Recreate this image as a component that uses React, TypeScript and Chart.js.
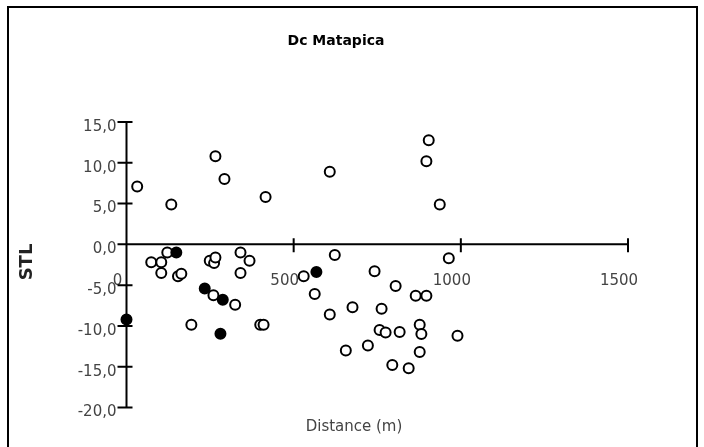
import { useEffect, useRef } from "react";
import { Chart, registerables } from "chart.js";

Chart.register(...registerables);

// Labels
const chartTitle = "Dc Matapica";
const xAxisTitle = "Distance (m)";
const yAxisTitle = "STL";

// Axis extents and tick spacing
const xMin = 0;
const xMax = 1500;
const xStep = 500;
const yMin = -20;
const yMax = 15;
const yStep = 5;

// Open-circle samples: distance (m) and STL
const openDistance = [
  32, 134, 266, 293, 416, 608, 904, 897, 937,
  74, 104, 122, 104, 154, 164, 249, 262, 266, 341, 341, 368,
  260, 325, 194, 400, 410, 530, 563, 608, 623, 676, 742, 805, 865, 897,
  763, 757, 775, 817, 877, 882, 990, 964, 656, 722, 877, 795, 844,
];
const openStl = [
  7.1, 4.9, 10.8, 8.0, 5.8, 8.9, 12.75, 10.2, 4.9,
  -2.2, -2.2, -1.0, -3.5, -3.9, -3.6, -2.0, -2.3, -1.6, -1.0, -3.5, -2.0,
  -6.25, -7.4, -9.85, -9.85, -9.85, -3.9, -6.1, -8.6, -1.3, -7.7, -3.3, -5.1, -6.3, -6.3,
  -7.9, -10.5, -10.8, -10.75, -9.85, -11.0, -11.2, -1.7, -13.0, -12.4, -13.2, -14.8, -15.2,
];

// Filled-circle samples
const filledDistance = [0, 149, 234, 288, 281, 568];
const filledStl = [-9.2, -1.0, -5.4, -6.8, -10.95, -3.4];

const FONT = "'DejaVu Sans', Verdana, sans-serif";
const TEXT_GREY = "#444";

// Axis lines crossing at the origin, with ticks that straddle each axis.
const crossAxesPlugin = {
  id: "crossAxes",
  beforeDatasetsDraw(chart: any) {
    const { ctx, scales } = chart;
    const xs = scales.x;
    const ys = scales.y;
    const x0 = xs.getPixelForValue(0);
    const y0 = ys.getPixelForValue(0);
    ctx.save();
    ctx.strokeStyle = "#000";
    ctx.lineWidth = 2;
    ctx.lineCap = "butt";
    ctx.beginPath();
    ctx.moveTo(x0, ys.getPixelForValue(yMax));
    ctx.lineTo(x0, ys.getPixelForValue(yMin));
    ctx.moveTo(xs.getPixelForValue(xMin), y0);
    ctx.lineTo(xs.getPixelForValue(xMax), y0);
    for (const t of ys.ticks) {
      const py = ys.getPixelForValue(t.value);
      ctx.moveTo(x0 - 9, py);
      ctx.lineTo(x0 + 6, py);
    }
    for (const t of xs.ticks) {
      if (t.value === 0) continue;
      const px = xs.getPixelForValue(t.value);
      ctx.moveTo(px, y0 - 6);
      ctx.lineTo(px, y0 + 8);
    }
    ctx.stroke();
    ctx.restore();
  },
  afterDraw(chart: any) {
    const { ctx } = chart;
    ctx.save();
    // outer frame
    ctx.strokeStyle = "#000";
    ctx.lineWidth = 2;
    ctx.beginPath();
    ctx.moveTo(8, 447);
    ctx.lineTo(8, 7);
    ctx.lineTo(697, 7);
    ctx.lineTo(697, 447);
    ctx.stroke();

    ctx.textAlign = "center";
    ctx.textBaseline = "middle";
    ctx.fillStyle = "#000";
    ctx.font = `bold 14px ${FONT}`;
    ctx.fillText(chartTitle, 336, 41);

    ctx.fillStyle = TEXT_GREY;
    ctx.font = `15px ${FONT}`;
    ctx.fillText(xAxisTitle, 354, 427);

    ctx.translate(27, 262);
    ctx.rotate(-Math.PI / 2);
    ctx.fillStyle = "#222";
    ctx.font = `bold 18px ${FONT}`;
    ctx.fillText(yAxisTitle, 0, 0);
    ctx.restore();
  },
};

export default function App() {
  const canvasRef = useRef<HTMLCanvasElement>(null);

  useEffect(() => {
    if (!canvasRef.current) return;
    const pointStyle = {
      pointRadius: 5,
      pointHoverRadius: 5,
      pointBorderWidth: 2,
      pointBorderColor: "#000",
      clip: false as const,
      showLine: false,
    };
    const chart = new Chart(canvasRef.current, {
      type: "scatter",
      data: {
        datasets: [
          {
            label: "filled",
            data: filledDistance.map((x, i) => ({ x, y: filledStl[i] })),
            ...pointStyle,
            pointBackgroundColor: "#000",
          },
          {
            label: "open",
            data: openDistance.map((x, i) => ({ x, y: openStl[i] })),
            ...pointStyle,
            pointBackgroundColor: "#fff",
          },
        ],
      },
      options: {
        responsive: false,
        animation: false,
        events: [],
        layout: { padding: { left: 66.5, right: 76, top: 122, bottom: 39.5 } },
        plugins: {
          legend: { display: false },
          tooltip: { enabled: false },
          title: { display: false },
        },
        scales: {
          x: {
            type: "linear",
            position: { y: 0 },
            min: xMin,
            max: xMax,
            grid: { display: false, drawTicks: false },
            border: { display: false },
            ticks: {
              stepSize: xStep,
              padding: 28,
              labelOffset: -9,
              maxRotation: 0,
              autoSkip: false,
              color: TEXT_GREY,
              font: { family: FONT, size: 15 },
              callback: (v: any) => String(v),
            },
          },
          y: {
            type: "linear",
            position: "left",
            min: yMin,
            max: yMax,
            afterFit: (s: any) => {
              s.width = 60;
            },
            grid: { display: false, drawTicks: false },
            border: { display: false },
            ticks: {
              stepSize: yStep,
              padding: 10,
              labelOffset: 5,
              color: TEXT_GREY,
              font: { family: FONT, size: 15 },
              callback: (v: any) => Number(v).toFixed(1).replace(".", ","),
            },
          },
        },
      },
      plugins: [crossAxesPlugin],
    });
    return () => chart.destroy();
  }, []);

  return (
    <div style={{ position: "absolute", left: 0, top: 0, width: 704, height: 447, background: "#fff" }}>
      <canvas ref={canvasRef} width={704} height={447} style={{ display: "block" }} />
    </div>
  );
}
